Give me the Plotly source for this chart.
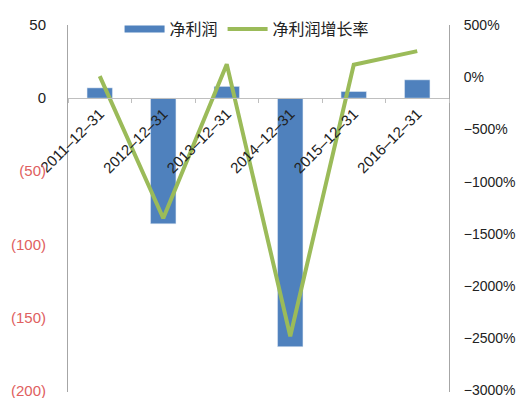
import plotly.graph_objects as go

# Annual net profit (left axis) and its growth rate in % (right axis)
dates = ["2011-12-31", "2012-12-31", "2013-12-31", "2014-12-31", "2015-12-31", "2016-12-31"]
net_profit = [7, -86, 8, -170, 4.5, 12.5]
growth_pct = [10, -1350, 125, -2480, 120, 250]

date_labels = [d.replace("-", "–") for d in dates]

neg_red = "#e06060"
left_vals = [50, 0, -50, -100, -150, -200]
left_text = ["50", "0"] + [f"<span style='color:{neg_red}'>({abs(v)})</span>" for v in left_vals[2:]]
right_vals = [500, 0, -500, -1000, -1500, -2000, -2500, -3000]
right_text = [f"{v}%".replace("-", "−") for v in right_vals]

BAR_BLUE = "#4f81bd"
LINE_GREEN = "#9bbb59"

fig = go.Figure()
fig.add_trace(go.Bar(x=dates, y=net_profit, name="净利润", marker_color=BAR_BLUE,
                     width=0.4, yaxis="y", showlegend=False))
# legend-only entry giving the bar series a wide, flat swatch
fig.add_trace(go.Scatter(x=[None], y=[None], name="净利润", mode="lines",
                         line=dict(color=BAR_BLUE, width=7), yaxis="y"))
fig.add_trace(go.Scatter(x=dates, y=growth_pct, name="净利润增长率", mode="lines",
                         line=dict(color=LINE_GREEN, width=4), yaxis="y2"))

zero_pos = 200 / 250  # paper height fraction of the zero line on the left axis

fig.update_layout(
    width=517, height=398,
    margin=dict(l=68, r=68, t=25, b=6),
    paper_bgcolor="white", plot_bgcolor="white",
    font=dict(family="Liberation Sans, Arial, sans-serif", size=15, color="#222"),
    showlegend=True,
    legend=dict(orientation="h", x=0.47, xanchor="center", y=1.035, yanchor="top",
                font=dict(family="Noto Sans CJK SC", size=16, color="#222"),
                bgcolor="rgba(0,0,0,0)", itemwidth=40),
    xaxis=dict(type="category", anchor="free", position=zero_pos,
               tickvals=dates, ticktext=date_labels, automargin=False,
               showline=True, linecolor="#bfbfbf", linewidth=1,
               ticks="outside", tickson="boundaries", ticklen=4, tickcolor="#bfbfbf",
               tickangle=-45, tickfont=dict(size=15, color="#222"),
               showgrid=False, zeroline=False),
    yaxis=dict(range=[-201, 50], tickvals=left_vals, ticktext=left_text,
               automargin=False,
               showline=True, linecolor="#a6a6a6", linewidth=1,
               showgrid=False, zeroline=False, ticks="", ticklabelstandoff=18,
               ticklabeloverflow="allow"),
    yaxis2=dict(range=[-3014, 500], tickvals=right_vals, ticktext=right_text,
                overlaying="y", side="right", automargin=False,
                tickfont=dict(size=14, color="#222"),
                showline=True, linecolor="#a6a6a6", linewidth=1,
                showgrid=False, zeroline=False, ticks="", ticklabelstandoff=11,
                ticklabeloverflow="allow"),
)

fig.write_html("out.html")
